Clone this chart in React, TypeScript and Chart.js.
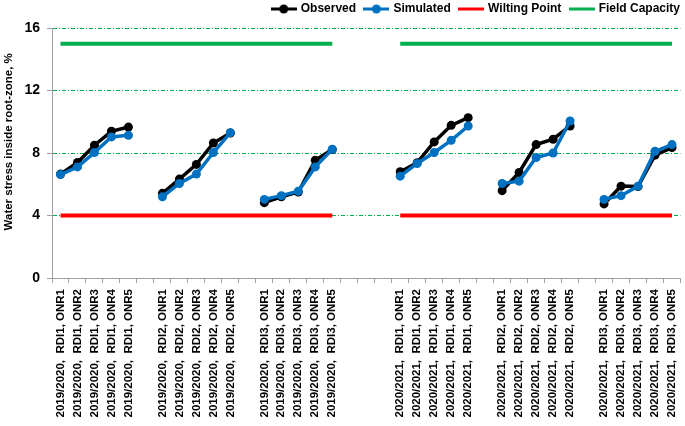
import React, { useEffect, useRef } from "react";
import { Chart, registerables } from "chart.js";

Chart.register(...registerables);

const seasons = ["2019/2020", "2020/2021"];
const treatments = ["RDI1", "RDI2", "RDI3"];
const onrLevels = ["ONR1", "ONR2", "ONR3", "ONR4", "ONR5"];

// values per category (null = empty gap category)
const observed = [
  6.65, 7.39, 8.5, 9.39, 9.66, null,
  5.42, 6.33, 7.27, 8.64, 9.28, null,
  4.82, 5.2, 5.5, 7.54, 8.22,
  null, null, null,
  6.8, 7.38, 8.71, 9.77, 10.26, null,
  5.59, 6.75, 8.54, 8.88, 9.73, null,
  4.74, 5.88, 5.85, 7.86, 8.35,
];
const simulated = [
  6.62, 7.11, 8.03, 9.03, 9.13, null,
  5.2, 6.05, 6.65, 8.03, 9.3, null,
  5.03, 5.27, 5.56, 7.11, 8.24,
  null, null, null,
  6.52, 7.33, 8.03, 8.81, 9.73, null,
  6.05, 6.2, 7.71, 8.0, 10.05, null,
  5.03, 5.27, 5.88, 8.11, 8.54,
];
const wiltingPoint = 4;
const fieldCapacity = 15;
const yTicks = [0, 4, 8, 12, 16];

const labels: string[] = [];
const seasonOf: number[] = [];
seasons.forEach((s, si) => {
  treatments.forEach((t, ti) => {
    onrLevels.forEach((o) => {
      labels.push(`${s},  ${t}, ${o}`);
      seasonOf.push(si);
    });
    if (ti < treatments.length - 1) {
      labels.push("");
      seasonOf.push(si);
    }
  });
  if (si < seasons.length - 1) {
    for (let k = 0; k < 3; k++) {
      labels.push("");
      seasonOf.push(-1);
    }
  }
});

const wiltingData = seasonOf.map((s) => (s >= 0 ? wiltingPoint : null));
const fieldData = seasonOf.map((s) => (s >= 0 ? fieldCapacity : null));

const FONT = "'Liberation Sans', Arial, sans-serif";

function legendIcon(color: string, dot: boolean) {
  const c = document.createElement("canvas");
  c.width = 26;
  c.height = 10;
  const ctx = c.getContext("2d")!;
  ctx.strokeStyle = color;
  ctx.lineWidth = 3;
  ctx.beginPath();
  ctx.moveTo(0, 5);
  ctx.lineTo(26, 5);
  ctx.stroke();
  if (dot) {
    ctx.fillStyle = color;
    ctx.beginPath();
    ctx.arc(13, 5, 4.5, 0, Math.PI * 2);
    ctx.fill();
  }
  return c;
}

const shiftLegend = {
  id: "shiftLegend",
  afterLayout(chart: any) {
    const lg = chart.legend;
    if (lg) {
      lg.top -= 3;
      lg.bottom -= 3;
      lg.left += 2;
      lg.right += 2;
    }
  },
};

export default function App() {
  const ref = useRef<HTMLCanvasElement>(null);
  useEffect(() => {
    const icons = [
      legendIcon("#000000", true),
      legendIcon("#0070C0", true),
      legendIcon("#FF0000", false),
      legendIcon("#00B050", false),
    ];
    const chart = new Chart(ref.current!, {
      type: "line",
      plugins: [shiftLegend],
      data: {
        labels,
        datasets: [
          {
            label: "Observed",
            data: observed,
            borderColor: "#000000",
            backgroundColor: "#000000",
            borderWidth: 3.5,
            pointRadius: 4.5,
            pointBorderWidth: 0,
            spanGaps: false,
            order: 2,
          },
          {
            label: "Simulated",
            data: simulated,
            borderColor: "#0070C0",
            backgroundColor: "#0070C0",
            borderWidth: 3.5,
            pointRadius: 4.5,
            pointBorderWidth: 0,
            spanGaps: false,
            order: 1,
          },
          {
            label: "Wilting Point",
            data: wiltingData,
            borderColor: "#FF0000",
            backgroundColor: "#FF0000",
            borderWidth: 4,
            pointRadius: 0,
            spanGaps: false,
            order: 3,
          },
          {
            label: "Field Capacity",
            data: fieldData,
            borderColor: "#00B050",
            backgroundColor: "#00B050",
            borderWidth: 4,
            pointRadius: 0,
            spanGaps: false,
            order: 4,
          },
        ],
      },
      options: {
        animation: false,
        responsive: true,
        maintainAspectRatio: false,
        layout: { padding: { left: 0, right: 1, top: 0, bottom: 0 } },
        plugins: {
          tooltip: { enabled: false },
          legend: {
            position: "top",
            align: "end",
            labels: {
              usePointStyle: true,
              pointStyleWidth: 22,
              padding: 6,
              color: "#000",
              font: { family: FONT, weight: "bold", size: 12 },
              generateLabels: (ch: any) =>
                ch.data.datasets.map((d: any, i: number) => ({
                  text: i < ch.data.datasets.length - 1 ? d.label + " " : d.label,
                  pointStyle: icons[i],
                  fillStyle: d.borderColor,
                  strokeStyle: d.borderColor,
                  lineWidth: 0,
                  hidden: false,
                  datasetIndex: i,
                  fontColor: "#000",
                })),
            },
          },
        },
        scales: {
          x: {
            type: "category",
            offset: true,
            afterFit: (s: any) => {
              s.paddingRight = 0;
              s.paddingLeft = 0;
              s.height = 148;
            },
            grid: {
              offset: true,
              drawOnChartArea: false,
              drawTicks: true,
              tickLength: 5,
              color: "#A0A0A0",
            },
            border: { color: "#A0A0A0", width: 1 },
            ticks: {
              autoSkip: false,
              maxRotation: 90,
              minRotation: 90,
              color: "#000",
              padding: 6,
              font: { family: FONT, weight: "bold", size: 11.5 },
            },
          },
          y: {
            min: 0,
            max: 16,
            afterFit: (s: any) => {
              s.width = 52;
            },
            afterBuildTicks: (s: any) => {
              s.ticks = yTicks.map((v) => ({ value: v }));
            },
            grid: {
              color: "#00B050",
              tickColor: "#A0A0A0",
              lineWidth: 1,
              tickLength: 5,
            },
            border: { color: "#A0A0A0", width: 1, dash: [4, 2, 1, 2] },
            ticks: {
              color: "#000",
              padding: 7,
              font: { family: FONT, weight: "bold", size: 14 },
            },
            title: {
              display: true,
              text: "       Water stress inside root-zone, %",
              color: "#000",
              padding: { top: 2, bottom: 9 },
              font: { family: FONT, weight: "bold", size: 11.5 },
            },
          },
        },
      },
    });
    return () => chart.destroy();
  }, []);
  return (
    <div style={{ position: "fixed", left: 0, top: 0, width: 685, height: 426, background: "#fff" }}>
      <canvas ref={ref} />
    </div>
  );
}
